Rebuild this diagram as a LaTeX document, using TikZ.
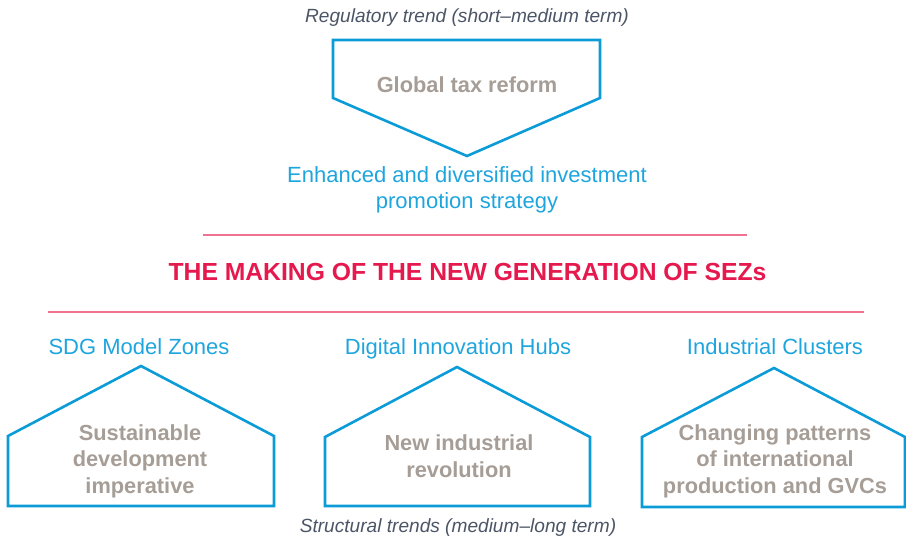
\documentclass[tikz,border=0pt]{standalone}
\usepackage{fontspec}
\setmainfont{Liberation Sans}
\begin{document}
\definecolor{unblue}{HTML}{0B9CD8}
\definecolor{labelblue}{HTML}{1FA5DE}
\definecolor{warmgray}{HTML}{A69E96}
\definecolor{rulepink}{HTML}{EF7391}
\definecolor{titlered}{HTML}{E5194D}
\definecolor{slate}{HTML}{4B5566}
\begin{tikzpicture}[x=1pt,y=-1pt,
  shapeline/.style={draw=unblue,line width=2.6pt,line join=miter},
  rulestyle/.style={draw=rulepink,line width=1.3pt},
  trendnote/.style={font=\fontsize{19.1}{23}\selectfont\itshape,text=slate,anchor=base,inner sep=0pt},
  zonelabel/.style={font=\fontsize{22}{25.5}\selectfont,text=labelblue,anchor=base,inner sep=0pt},
  housetext/.style={font=\fontsize{21.8}{26.5}\selectfont\bfseries,text=warmgray,align=center,inner sep=0pt},
]
\useasboundingbox (0,0) rectangle (906,541);

% regulatory trend: downward pentagon arrow
\node[trendnote] (regnote) at (467,22) {Regulatory trend (short–medium term)};
\draw[shapeline] (333,40) coordinate (ga) -- (600,40) -- (600,98) -- (467,156) -- (333,98) -- cycle;
\node[font=\fontsize{21.8}{25}\selectfont\bfseries,text=warmgray,anchor=base,inner sep=0pt] (gtr) at (467,92) {Global tax reform};

\node[font=\fontsize{22}{25.5}\selectfont,text=labelblue,align=center,inner sep=0pt] (promo) at (467,190)
  {Enhanced and diversified investment\\promotion strategy};

% title between two rules
\coordinate (r1a) at (203,235); \coordinate (r1b) at (747,235);
\coordinate (r2a) at (48,312);  \coordinate (r2b) at (864,312);
\draw[rulestyle] (r1a) -- (r1b);
\draw[rulestyle] (r2a) -- (r2b);
\node[font=\fontsize{24.7}{28}\selectfont\bfseries,text=titlered,anchor=base,inner sep=0pt] (title) at (467.5,280)
  {THE MAKING OF THE NEW GENERATION OF SEZs};

% structural trends: three house shapes
\node[zonelabel] (sdg) at (139,354) {SDG Model Zones};
\node[zonelabel] (dih) at (458,354) {Digital Innovation Hubs};
\node[zonelabel] (ic) at (775,354) {Industrial Clusters};

\draw[shapeline] (8,506) -- (8,436) -- (141,366) -- (274,436) -- (274,506) -- cycle;
\draw[shapeline] (325,506) -- (325,437) -- (457,367) -- (590,437) -- (590,506) -- cycle;
\draw[shapeline] (642,507) -- (642,437) -- (774,368) -- (905,437) -- (905,507) -- cycle;

\node[housetext] (sdi) at (140,461) {Sustainable\\development\\imperative};
\node[housetext] (nir) at (459,456) {New industrial\\revolution};
\node[housetext] (cpi) at (775,461) {Changing patterns\\of international\\production and GVCs};

\node[trendnote] (strnote) at (458,532) {Structural trends (medium–long term)};
\end{tikzpicture}
\end{document}
